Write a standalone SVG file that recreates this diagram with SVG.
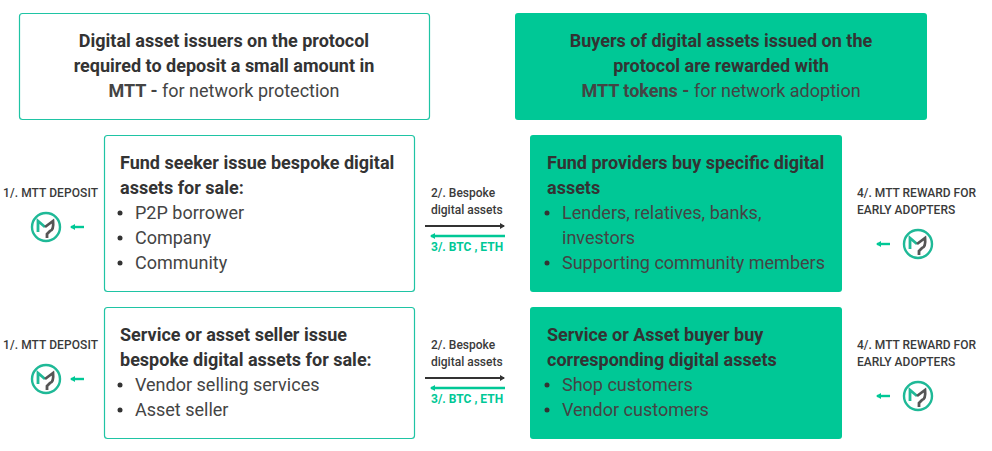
<svg xmlns="http://www.w3.org/2000/svg" width="992" height="451" viewBox="0 0 992 451">
<style>
text{font-family:Roboto,"Liberation Sans",sans-serif;fill:#3a3a3a}
.b{font-weight:700}
.h{font-size:18px;font-weight:700;fill:#333}
.t{font-size:18px;fill:#444}
.s{font-size:12px;font-weight:500}
.g{fill:#00c896;font-weight:700}
.m{text-anchor:middle}
.w{fill:#fff;stroke:#1fc4a4;stroke-width:1.2}
.f{fill:#00c896}
.dot{fill:#333}
.ring{fill:#fff;stroke:#1fb997;stroke-width:2.4}
.mk{fill:none;stroke:#555;stroke-width:2.8}
.mk2{fill:none;stroke:#1fb997;stroke-width:2.8}
.ga{stroke:#00c896;stroke-width:2.4;fill:none}
.da{stroke:#333;stroke-width:2;fill:none}
</style>
<defs>
<marker id="ag" markerUnits="userSpaceOnUse" viewBox="0 0 5 6" refX="4" refY="3" markerWidth="5" markerHeight="6" orient="auto"><path d="M5 3L0 0V6Z" fill="#00c896"/></marker>
<marker id="ad" markerUnits="userSpaceOnUse" viewBox="0 0 5 6" refX="4" refY="3" markerWidth="5" markerHeight="6" orient="auto"><path d="M5 3L0 0V6Z" fill="#333"/></marker>
<g id="logo"><circle r="14" class="ring"/><path class="mk2" d="M-8 5V-6L-1 0"/><path class="mk" d="M-1 0L7 -6Q8 3 4 4L1 7V11"/></g>
</defs>
<g id="connectors">
<path class="ga" d="M84 227H71" marker-end="url(#ag)"/>
<path class="da" d="M425 226H504" marker-end="url(#ad)"/>
<path class="ga" d="M505 236H431" marker-end="url(#ag)"/>
<path class="ga" d="M890 244H877" marker-end="url(#ag)"/>
<path class="ga" d="M84 379H71" marker-end="url(#ag)"/>
<path class="da" d="M425 378H504" marker-end="url(#ad)"/>
<path class="ga" d="M505 388H431" marker-end="url(#ag)"/>
<path class="ga" d="M890 396H877" marker-end="url(#ag)"/>
</g>
<g id="top-left"><rect class="w" x="19.500" y="13.500" width="410" height="106" rx="3"/>
<text class="h m" x="224" y="47">Digital asset issuers on the protocol</text>
<text class="h m" x="224" y="71.500">required to deposit a small amount in</text>
<text class="t m" x="224" y="97"><tspan class="b">MTT - </tspan>for network protection</text></g>
<g id="top-right"><rect class="f" x="515" y="13" width="412" height="107" rx="3"/>
<text class="h m" x="721" y="47">Buyers of digital assets issued on the</text>
<text class="h m" x="721" y="71.500">protocol are rewarded with</text>
<text class="t m" x="721" y="97"><tspan class="b">MTT tokens - </tspan>for network adoption</text></g>
<g id="fund-seeker"><rect class="w" x="104.500" y="135.500" width="310" height="156" rx="3"/>
<text class="h" x="120" y="169">Fund seeker issue bespoke digital</text>
<text class="h" x="120" y="194">assets for sale:</text>
<circle class="dot" cx="120" cy="213" r="2.500"/><text class="t" x="135" y="219">P2P borrower</text>
<circle class="dot" cx="120" cy="238" r="2.500"/><text class="t" x="135" y="244">Company</text>
<circle class="dot" cx="120" cy="263" r="2.500"/><text class="t" x="135" y="269">Community</text></g>
<g id="fund-providers"><rect class="f" x="530" y="135" width="312" height="157" rx="3"/>
<text class="h" x="547" y="169">Fund providers buy specific digital</text>
<text class="h" x="547" y="194">assets</text>
<circle class="dot" cx="547" cy="213" r="2.500"/><text class="t" x="562" y="219">Lenders, relatives, banks,</text>
<text class="t" x="562" y="244">investors</text>
<circle class="dot" cx="547" cy="263" r="2.500"/><text class="t" x="562" y="269">Supporting community members</text></g>
<g id="service-seller"><rect class="w" x="104.500" y="307.500" width="310" height="131" rx="3"/>
<text class="h" x="120" y="341">Service or asset seller issue</text>
<text class="h" x="120" y="366">bespoke digital assets for sale:</text>
<circle class="dot" cx="120" cy="385" r="2.500"/><text class="t" x="135" y="391">Vendor selling services</text>
<circle class="dot" cx="120" cy="410" r="2.500"/><text class="t" x="135" y="416">Asset seller</text></g>
<g id="service-buyer"><rect class="f" x="530" y="307" width="312" height="132" rx="3"/>
<text class="h" x="547" y="341">Service or Asset buyer buy</text>
<text class="h" x="547" y="366">corresponding digital assets</text>
<circle class="dot" cx="547" cy="385" r="2.500"/><text class="t" x="562" y="391">Shop customers</text>
<circle class="dot" cx="547" cy="410" r="2.500"/><text class="t" x="562" y="416">Vendor customers</text></g>
<g id="deposit-1"><text class="s" x="3" y="197" textLength="95">1/. MTT DEPOSIT</text><use href="#logo" x="46" y="227"/></g>
<g id="deposit-2"><text class="s" x="3" y="349" textLength="95">1/. MTT DEPOSIT</text><use href="#logo" x="46" y="379"/></g>
<g id="reward-1"><text class="s" x="857" y="197">4/. MTT REWARD FOR</text><text class="s" x="857" y="214">EARLY ADOPTERS</text><use href="#logo" x="918" y="244"/></g>
<g id="reward-2"><text class="s" x="857" y="349">4/. MTT REWARD FOR</text><text class="s" x="857" y="366">EARLY ADOPTERS</text><use href="#logo" x="918" y="396"/></g>
<g id="label-a"><text class="s" x="431" y="197">2/. Bespoke</text><text class="s" x="431" y="214">digital assets</text><text class="s g" x="431" y="251">3/. BTC , ETH</text></g>
<g id="label-b"><text class="s" x="431" y="349">2/. Bespoke</text><text class="s" x="431" y="366">digital assets</text><text class="s g" x="431" y="403">3/. BTC , ETH</text></g>
</svg>
